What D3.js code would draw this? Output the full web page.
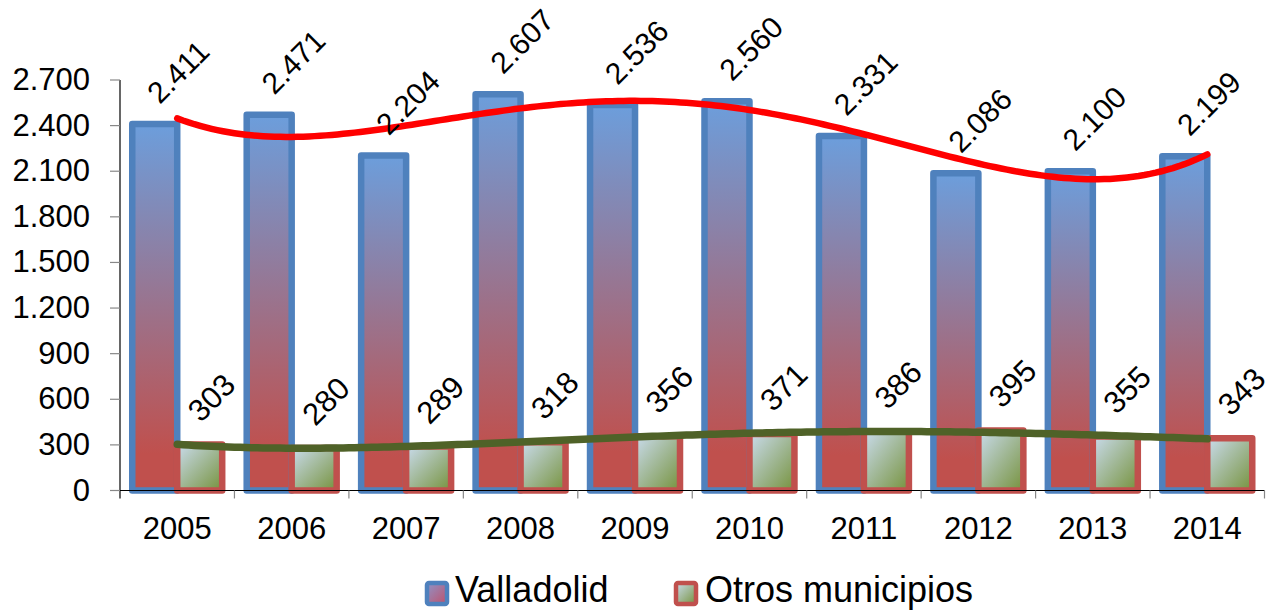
<!DOCTYPE html>
<html>
<head>
<meta charset="utf-8">
<script src="https://cdn.jsdelivr.net/npm/d3@7"></script>
<style>
  html, body { margin: 0; padding: 0; background: #fff; }
  svg { display: block; font-family: "Liberation Sans", Arial, sans-serif; }
</style>
</head>
<body>
<svg id="chart" width="1274" height="610"></svg>
<script>
const years = ["2005","2006","2007","2008","2009","2010","2011","2012","2013","2014"];
const valladolid = [2411, 2471, 2204, 2607, 2536, 2560, 2331, 2086, 2100, 2199];
const otros = [303, 280, 289, 318, 356, 371, 386, 395, 355, 343];
const yTicks = [0, 300, 600, 900, 1200, 1500, 1800, 2100, 2400, 2700];
const seriesNames = ["Valladolid", "Otros municipios"];
const trendDegree = 4;

const es = d3.formatLocale({decimal: ",", thousands: ".", grouping: [3], currency: ["", "€"]});
const fmt = es.format(",d");

const svg = d3.select("#chart");
const mLeft = 120, mRight = 1264.5, mTop = 80, mBottom = 490.5;

const x = d3.scaleBand().domain(years).range([mLeft, mRight]).padding(0);
const y = d3.scaleLinear().domain([0, 2700]).range([mBottom, mTop]);
const bw = x.bandwidth();
const barW = bw * 0.393;
const cx = d => x(d) + bw / 2;

// gradients
const defs = svg.append("defs");
const g1 = defs.append("linearGradient").attr("id", "gVall")
  .attr("x1", 0).attr("y1", 0).attr("x2", 0).attr("y2", 1);
g1.append("stop").attr("offset", "0%").attr("stop-color", "#6C9EDC");
g1.append("stop").attr("offset", "90%").attr("stop-color", "#C0504D");
g1.append("stop").attr("offset", "100%").attr("stop-color", "#C0504D");
const g2 = defs.append("linearGradient").attr("id", "gOtros")
  .attr("x1", 0).attr("y1", 0).attr("x2", 1).attr("y2", 1);
g2.append("stop").attr("offset", "0%").attr("stop-color", "#CADCEE");
g2.append("stop").attr("offset", "100%").attr("stop-color", "#76923C");
const g3 = defs.append("linearGradient").attr("id", "gLegV")
  .attr("x1", 0).attr("y1", 0).attr("x2", 1).attr("y2", 1);
g3.append("stop").attr("offset", "0%").attr("stop-color", "#8E94C8");
g3.append("stop").attr("offset", "100%").attr("stop-color", "#C0506A");

// y axis
const yAxis = svg.append("g");
yAxis.append("line").attr("x1", mLeft).attr("x2", mLeft).attr("y1", mTop).attr("y2", mBottom + 8)
  .attr("stroke", "#000").attr("stroke-width", 1.2);
yAxis.selectAll("line.tick").data(yTicks).enter().append("line").attr("class", "tick")
  .attr("x1", mLeft - 10).attr("x2", mLeft).attr("y1", d => y(d)).attr("y2", d => y(d))
  .attr("stroke", "#888").attr("stroke-width", 1.2);
yAxis.selectAll("text").data(yTicks).enter().append("text")
  .attr("x", 90).attr("y", d => y(d) + 10).attr("text-anchor", "end")
  .attr("font-size", 31).attr("fill", "#000").text(d => fmt(d));

// bars
const gb = svg.append("g");
years.forEach((yr, i) => {
  gb.append("rect").attr("x", cx(yr) - barW).attr("y", y(valladolid[i]))
    .attr("width", barW).attr("height", y(0) - y(valladolid[i]))
    .attr("fill", "url(#gVall)").attr("stroke", "#4F81BD").attr("stroke-width", 6.5)
    .attr("stroke-linejoin", "round");
  gb.append("rect").attr("x", cx(yr)).attr("y", y(otros[i]))
    .attr("width", barW).attr("height", y(0) - y(otros[i]))
    .attr("fill", "url(#gOtros)").attr("stroke", "#C0504D").attr("stroke-width", 6.5)
    .attr("stroke-linejoin", "round");
});

// x axis
const xAxis = svg.append("g");
xAxis.append("line").attr("x1", mLeft).attr("x2", mRight).attr("y1", mBottom).attr("y2", mBottom)
  .attr("stroke", "#000").attr("stroke-width", 1.2);
const bounds = years.map(d => x(d)).concat([mRight]);
xAxis.selectAll("line.tick").data(bounds.slice(1)).enter().append("line").attr("class", "tick")
  .attr("x1", d => d).attr("x2", d => d).attr("y1", mBottom).attr("y2", mBottom + 8)
  .attr("stroke", "#888").attr("stroke-width", 1.2);
xAxis.selectAll("text").data(years).enter().append("text")
  .attr("x", d => cx(d)).attr("y", 539).attr("text-anchor", "middle")
  .attr("font-size", 31).attr("fill", "#000").text(d => d);

// polynomial trendlines (least squares, x = 1..n)
function polyfit(ys, deg) {
  const n = ys.length, m = deg + 1;
  const ts = ys.map((_, i) => ((i + 1) - (n + 1) / 2) / ((n - 1) / 2));
  const A = Array.from({length: m}, () => new Array(m + 1).fill(0));
  for (let r = 0; r < m; r++) {
    for (let c = 0; c < m; c++) A[r][c] = d3.sum(ts, t => Math.pow(t, r + c));
    A[r][m] = d3.sum(ts, (t, k) => ys[k] * Math.pow(t, r));
  }
  for (let c = 0; c < m; c++) {
    let p = c;
    for (let r = c + 1; r < m; r++) if (Math.abs(A[r][c]) > Math.abs(A[p][c])) p = r;
    [A[c], A[p]] = [A[p], A[c]];
    for (let r = 0; r < m; r++) if (r !== c) {
      const f = A[r][c] / A[c][c];
      for (let k = c; k <= m; k++) A[r][k] -= f * A[c][k];
    }
  }
  const coef = A.map((row, i) => row[m] / row[i]);
  return xv => {
    const t = (xv - (n + 1) / 2) / ((n - 1) / 2);
    return coef.reduce((s, a, i) => s + a * Math.pow(t, i), 0);
  };
}
const xi = d3.scaleLinear().domain([1, years.length]).range([cx(years[0]), cx(years[years.length - 1])]);
const samples = d3.range(1, years.length + 0.0001, 0.05);
const line = d3.line().x(d => xi(d[0])).y(d => y(d[1])).curve(d3.curveLinear);
[[valladolid, "#FF0000", 6.5], [otros, "#4F6228", 7.5]].forEach(([vals, col, w]) => {
  const f = polyfit(vals, trendDegree);
  svg.append("path").attr("d", line(samples.map(s => [s, f(s)])))
    .attr("fill", "none").attr("stroke", col).attr("stroke-width", w).attr("stroke-linecap", "round");
});

// data labels
const gl = svg.append("g").attr("fill", "#000");
years.forEach((yr, i) => {
  const px1 = cx(yr) - barW / 2 + 5, py1 = y(valladolid[i]) - 19;
  gl.append("text").attr("font-size", 30)
    .attr("transform", `translate(${px1},${py1}) rotate(-45)`).text(fmt(valladolid[i]));
  const px2 = cx(yr) + barW / 2 + 1, py2 = y(otros[i]) - 21;
  gl.append("text").attr("font-size", 31)
    .attr("transform", `translate(${px2},${py2}) rotate(-45)`).text(fmt(otros[i]));
});

// legend
const leg = svg.append("g");
leg.append("rect").attr("x", 427).attr("y", 583).attr("width", 20).attr("height", 21).attr("rx", 2)
  .attr("fill", "url(#gLegV)").attr("stroke", "#4F81BD").attr("stroke-width", 4.5);
leg.append("text").attr("x", 455).attr("y", 602).attr("font-size", 36).text(seriesNames[0]);
leg.append("rect").attr("x", 676).attr("y", 583).attr("width", 20).attr("height", 21).attr("rx", 2)
  .attr("fill", "url(#gOtros)").attr("stroke", "#C0504D").attr("stroke-width", 4.5);
leg.append("text").attr("x", 705).attr("y", 602).attr("font-size", 36).text(seriesNames[1]);
</script>
</body>
</html>
